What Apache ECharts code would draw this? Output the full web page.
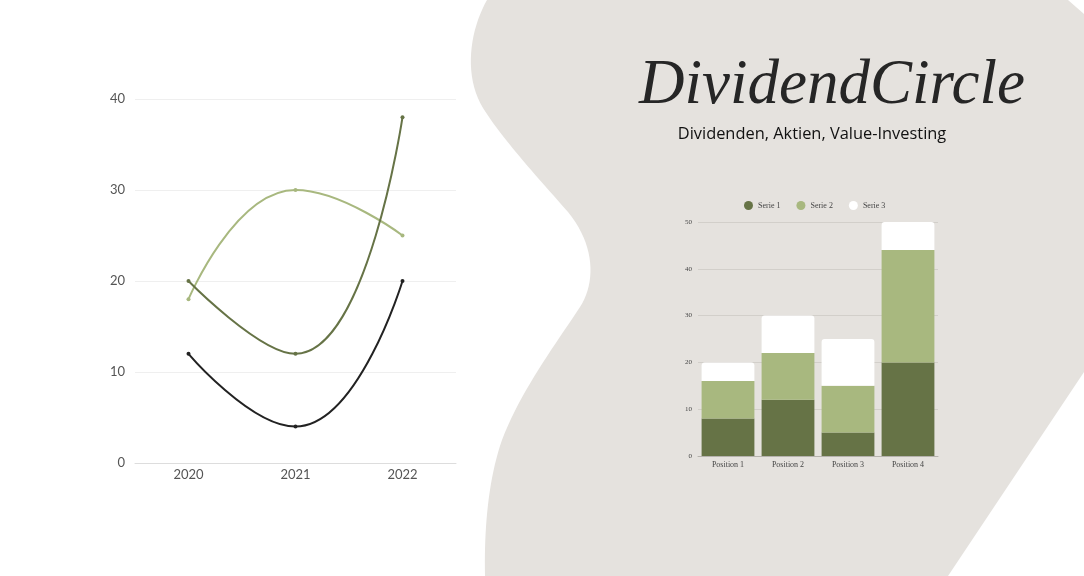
<!DOCTYPE html>
<html>
<head>
<meta charset="utf-8">
<script src="https://cdn.jsdelivr.net/npm/echarts@6/dist/echarts.min.js"></script>
<style>
html,body{margin:0;padding:0;background:#fff;}
#chart{width:1084px;height:576px;}
</style>
</head>
<body>
<div id="chart"></div>
<script>
// Line chart data
var years = ['2020', '2021', '2022'];
var lineLight = [18, 30, 25];
var lineDark = [20, 12, 38];
var lineBlack = [12, 4, 20];
var lineYTicks = [0, 10, 20, 30, 40];

// Stacked bar chart data
var positions = ['Position 1', 'Position 2', 'Position 3', 'Position 4'];
var serie1 = [8, 12, 5, 20];
var serie2 = [8, 10, 10, 24];
var serie3 = [4, 8, 10, 6];
var barNames = ['Serie 1', 'Serie 2', 'Serie 3'];

var chart = echarts.init(document.getElementById('chart'), null, {renderer: 'canvas'});

var cDark = '#667346', cLight = '#a8b87f', cBlack = '#222222', bg = '#e5e2de';

// decorative background blob outline (cubic bezier segments, then straight edges)
function blobPoints() {
  var segs = [
    [[487,0],[470,30],[463,75],[483,108]],
    [[483,108],[503,140],[540,180],[568,212]],
    [[568,212],[595,245],[596,282],[580,307]],
    [[580,307],[555,345],[520,392],[502,440]],
    [[502,440],[488,480],[484,530],[485,576]]
  ];
  var pts = [];
  segs.forEach(function (s) {
    for (var i = 0; i <= 20; i++) {
      var t = i / 20, u = 1 - t;
      var x = u*u*u*s[0][0] + 3*u*u*t*s[1][0] + 3*u*t*t*s[2][0] + t*t*t*s[3][0];
      var y = u*u*u*s[0][1] + 3*u*u*t*s[1][1] + 3*u*t*t*s[2][1] + t*t*t*s[3][1];
      pts.push([x, y]);
    }
  });
  pts.push([948,576],[1084,372],[1084,14],[1068,0]);
  return pts;
}

var option = {
  backgroundColor: '#ffffff',
  animation: false,
  graphic: [
    {
      type: 'polygon', z: -10, silent: true,
      shape: {points: blobPoints()},
      style: {fill: bg}
    },
    {
      type: 'text', z: 10, x: 832, y: 86,
      style: {
        text: 'DividendCircle', textAlign: 'center', textVerticalAlign: 'middle',
        font: 'italic 63px "Liberation Serif"', fill: '#262626'
      }
    },
    {
      type: 'text', z: 10, x: 812, y: 134,
      style: {
        text: 'Dividenden, Aktien, Value-Investing', textAlign: 'center', textVerticalAlign: 'middle',
        font: '16.4px "Open Sans"', fill: '#111'
      }
    }
  ],
  legend: {
    data: barNames,
    top: 196, left: 739,
    icon: 'circle', itemWidth: 9, itemHeight: 9, itemGap: 16,
    textStyle: {fontFamily: 'Liberation Serif', fontSize: 8, color: '#444'}
  },
  grid: [
    {left: 135, right: 628, top: 99, bottom: 113},
    {left: 698, right: 146, top: 222, bottom: 120}
  ],
  xAxis: [
    {
      gridIndex: 0, type: 'category', data: years, boundaryGap: true,
      axisLine: {lineStyle: {color: '#dddddd', width: 1}},
      axisTick: {show: false},
      axisLabel: {color: '#555', fontFamily: 'Lato', fontSize: 13, margin: 5}
    },
    {
      gridIndex: 1, type: 'category', data: positions,
      axisLine: {lineStyle: {color: '#b5b2ad'}},
      axisTick: {show: false},
      axisLabel: {color: '#444', fontFamily: 'Liberation Serif', fontSize: 8, margin: 5}
    }
  ],
  yAxis: [
    {
      gridIndex: 0, type: 'value', min: 0, max: 40, interval: 10,
      axisLine: {show: false}, axisTick: {show: false},
      splitLine: {lineStyle: {color: '#efefef'}},
      axisLabel: {color: '#555', fontFamily: 'Lato', fontSize: 13, margin: 10}
    },
    {
      gridIndex: 1, type: 'value', min: 0, max: 50, interval: 10,
      axisLine: {show: false}, axisTick: {show: false},
      splitLine: {lineStyle: {color: '#d2cfca'}},
      axisLabel: {color: '#444', fontFamily: 'Liberation Serif', fontSize: 7, margin: 6}
    }
  ],
  series: [
    {
      name: 'A', type: 'line', xAxisIndex: 0, yAxisIndex: 0, data: lineLight, smooth: 0.5,
      symbol: 'circle', symbolSize: 4, itemStyle: {color: cLight},
      lineStyle: {color: cLight, width: 2}
    },
    {
      name: 'B', type: 'line', xAxisIndex: 0, yAxisIndex: 0, data: lineDark, smooth: 0.5,
      symbol: 'circle', symbolSize: 4, itemStyle: {color: cDark},
      lineStyle: {color: cDark, width: 2}
    },
    {
      name: 'C', type: 'line', xAxisIndex: 0, yAxisIndex: 0, data: lineBlack, smooth: 0.5,
      symbol: 'circle', symbolSize: 4, itemStyle: {color: cBlack},
      lineStyle: {color: cBlack, width: 2}
    },
    {
      name: barNames[0], type: 'bar', stack: 's', xAxisIndex: 1, yAxisIndex: 1, data: serie1,
      barCategoryGap: '12%', itemStyle: {color: cDark}
    },
    {
      name: barNames[1], type: 'bar', stack: 's', xAxisIndex: 1, yAxisIndex: 1, data: serie2,
      barCategoryGap: '12%', itemStyle: {color: cLight}
    },
    {
      name: barNames[2], type: 'bar', stack: 's', xAxisIndex: 1, yAxisIndex: 1, data: serie3,
      barCategoryGap: '12%', itemStyle: {color: '#ffffff', borderRadius: [3, 3, 0, 0]}
    }
  ]
};
chart.setOption(option);
</script>
</body>
</html>
